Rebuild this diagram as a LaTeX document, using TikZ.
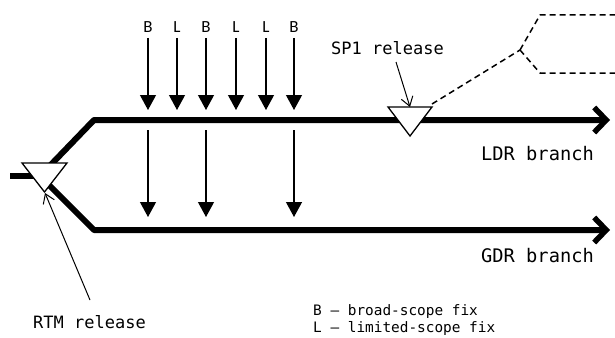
\documentclass[tikz,border=0pt]{standalone}
\usepackage{fontspec}
\usetikzlibrary{arrows.meta}
\newfontfamily\monofnt{DejaVu Sans Mono}
\newfontfamily\labfnt{Carlito}
\begin{document}
\begin{tikzpicture}[x=1pt,y=-1pt,
  mainline/.style={line width=6pt, line join=round, line cap=butt},
  mainarrow/.style={mainline, -{Straight Barb[length=12pt,width=25pt,line width=5.5pt]}},
  fixarrow/.style={line width=1.2pt, -{Triangle[length=15pt,width=16pt]}},
  callout/.style={line width=1pt, -{Straight Barb[length=9pt,width=12pt,line width=1pt]}},
  tri/.style={draw, line width=1.3pt, fill=white, line join=miter},
  dashline/.style={line width=1.5pt, dash pattern=on 6pt off 4pt, line join=round},
  fixlab/.style={anchor=base, inner sep=0pt, font=\labfnt\fontsize{17}{20}\selectfont},
  brlab/.style={anchor=base west, inner sep=0pt, font=\monofnt\fontsize{18.7}{22}\selectfont},
  rellab/.style={anchor=base west, inner sep=0pt, font=\monofnt\fontsize{17}{20}\selectfont},
  leglab/.style={anchor=base west, inner sep=0pt, font=\monofnt\fontsize{14.4}{17}\selectfont}
]
\useasboundingbox (0,0) rectangle (615,337);

% main branches
\coordinate (start) at (10,176);
\coordinate (j) at (40,176);
\coordinate (ucorner) at (94,120);
\coordinate (uend) at (610,120);
\coordinate (lcorner) at (94,230);
\coordinate (lend) at (610,230);
\draw[mainline] (start) -- (j);
\draw[mainarrow] (j) -- (ucorner) -- (uend);
\draw[mainarrow] (j) -- (lcorner) -- (lend);

% dashed future branch
\coordinate (d0) at (432,104);
\coordinate (fork) at (520,50);
\coordinate (dup) at (540,15);
\coordinate (dupend) at (615,15);
\coordinate (dlo) at (540,73);
\coordinate (dloend) at (615,73);
\draw[dashline] (d0) -- (fork);
\draw[dashline] (fork) -- (dup) -- (dupend);
\draw[dashline] (fork) -- (dlo) -- (dloend);

% release triangles
\draw[tri] (22,163) coordinate (rtmL) -- (67,163) coordinate (rtmR) -- (44.5,192) coordinate (rtm) -- cycle;
\draw[tri] (388,107) coordinate (spL) -- (432,107) coordinate (spR) -- (410,136) coordinate (sp) -- cycle;
\coordinate (sptop) at (410,107);

% fixes on upper branch
\foreach \x/\t/\n in {148/B/a,177/L/b,206/B/c,236/L/d,266/L/e,294/B/f}{
  \node[fixlab] (lab\n) at (\x,33) {\t};
  \coordinate (us\n) at (\x,38);
  \coordinate (ue\n) at (\x,110);
  \draw[fixarrow] (us\n) -- (ue\n);
}
% fixes on lower branch
\foreach \x/\n in {148/a,206/c,294/f}{
  \coordinate (ls\n) at (\x,130);
  \coordinate (le\n) at (\x,217);
  \draw[fixarrow] (ls\n) -- (le\n);
}

% labels
\node[rellab] (splab) at (331,55) {SP1 release};
\coordinate (spfrom) at (396,62);
\draw[callout] (spfrom) -- (sptop);

\node[rellab] (rtmlab) at (33,328) {RTM release};
\coordinate (rtmfrom) at (90,300);
\coordinate (rtmto) at (45,193);
\draw[callout] (rtmfrom) -- (rtmto);

\node[brlab] (ldr) at (481,160) {LDR branch};
\node[brlab] (gdr) at (481,262) {GDR branch};

\node[leglab] (legB) at (313,315) {B – broad-scope fix};
\node[leglab] (legL) at (313,332) {L – limited-scope fix};
\end{tikzpicture}
\end{document}
